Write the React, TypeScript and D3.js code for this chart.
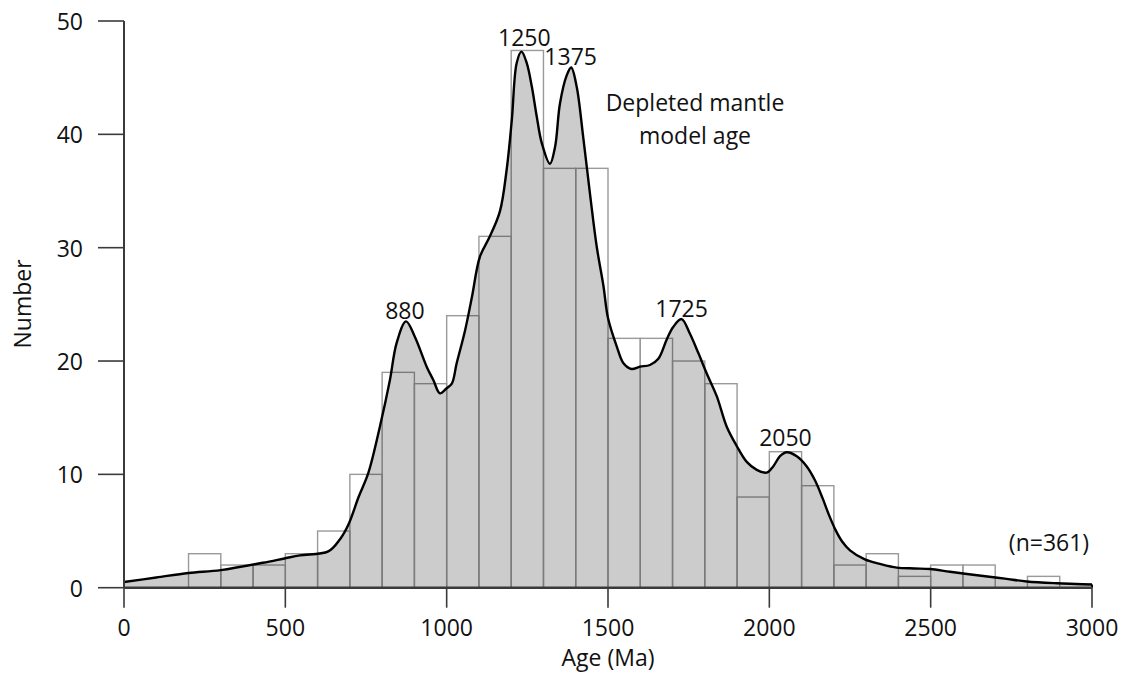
import React from "react";
import * as d3 from "d3";

// Histogram bins (100 Ma wide) and counts
const binStarts = [200, 300, 400, 500, 600, 700, 800, 900, 1000, 1100, 1200, 1300, 1400, 1500, 1600, 1700, 1800, 1900, 2000, 2100, 2200, 2300, 2400, 2500, 2600, 2800];
const binCounts = [3, 2, 2, 3, 5, 10, 19, 18, 24, 31, 47.4, 37, 37, 22, 22, 20, 18, 8, 12, 9, 2, 3, 1, 2, 2, 1];
const binWidth = 100;

// Probability density curve (scaled to counts)
const curveAge = [0, 100, 200, 300, 430, 500, 545, 633, 670, 696, 727, 757, 793, 824, 845, 874, 902, 938, 959, 979, 1000, 1016, 1031, 1057, 1078, 1103, 1134, 1165, 1186, 1202, 1217, 1232, 1248, 1264, 1279, 1295, 1320, 1336, 1351, 1372, 1386, 1403, 1423, 1444, 1465, 1486, 1500, 1527, 1548, 1573, 1599, 1630, 1656, 1682, 1702, 1728, 1754, 1780, 1806, 1837, 1868, 1899, 1930, 1961, 1992, 2012, 2033, 2054, 2085, 2116, 2141, 2165, 2185, 2205, 2225, 2250, 2296, 2343, 2395, 2450, 2498, 2560, 2663, 2730, 2798, 2891, 2950, 3000];
const curveVal = [0.5, 0.9, 1.3, 1.55, 2.2, 2.6, 2.85, 3.2, 4.3, 5.6, 8.0, 10.1, 14.2, 18.3, 21.6, 23.5, 22.1, 19.5, 18.3, 17.15, 17.6, 18.0, 19.8, 22.7, 25.6, 29.2, 31.0, 33.2, 36.9, 41.3, 46.3, 47.3, 46.3, 44.2, 41.6, 39.2, 37.4, 38.9, 42.7, 45.2, 45.9, 44.2, 39.8, 34.8, 30.1, 26.6, 23.8, 21.3, 19.8, 19.3, 19.5, 19.65, 20.2, 21.9, 23.0, 23.7, 22.4, 20.7, 18.9, 16.9, 14.2, 12.5, 11.1, 10.4, 10.15, 10.7, 11.6, 11.95, 11.6, 10.7, 9.5, 7.9, 6.4, 5.1, 4.1, 3.3, 2.5, 2.1, 1.77, 1.7, 1.65, 1.41, 1.03, 0.8, 0.55, 0.39, 0.33, 0.28];

const xTicks = [0, 500, 1000, 1500, 2000, 2500, 3000];
const yTicks = [0, 10, 20, 30, 40, 50];

// Peak annotations
const peakLabels = ["880", "1250", "1375", "1725", "2050"];
const peakAge = [880, 1250, 1375, 1725, 2050];
const peakLabelY = [24.5, 48.6, 46.9, 24.7, 13.3];
const peakLabelDx = [-3, -3, 3, 1, 0];

const W = 1128;
const H = 685;
const FONT = "'Open Sans', 'Noto Sans', sans-serif";

export default function App() {
  const x = d3.scaleLinear().domain([0, 3000]).range([124, 1092]);
  const y = d3.scaleLinear().domain([0, 50]).range([587.7, 21]);

  const pts: [number, number][] = curveAge.map((a, i) => [a, curveVal[i]]);
  const area = d3
    .area<[number, number]>()
    .x((d) => x(d[0]))
    .y0(y(0))
    .y1((d) => y(d[1]))
    .curve(d3.curveCatmullRom.alpha(0.5));
  const line = d3
    .line<[number, number]>()
    .x((d) => x(d[0]))
    .y((d) => y(d[1]))
    .curve(d3.curveCatmullRom.alpha(0.5));

  const axisColor = "#3a3a3a";
  const fs = 23;

  return (
    <svg
      width={W}
      height={H}
      style={{ position: "absolute", left: 0, top: 0, background: "#fff" }}
      fontFamily={FONT}
    >
      {/* histogram outlines */}
      {binStarts.map((b, i) => (
        <rect
          key={b}
          x={x(b)}
          y={y(binCounts[i])}
          width={x(b + binWidth) - x(b)}
          height={y(0) - y(binCounts[i])}
          fill="none"
          stroke="#9a9a9a"
          strokeWidth={1.4}
        />
      ))}

      {/* density area over the bars */}
      <path d={area(pts) || ""} fill="rgba(0,0,0,0.2)" stroke="none" />
      <path d={line(pts) || ""} fill="none" stroke="#000" strokeWidth={2.4} strokeLinejoin="round" />
      <line x1={x(3000)} x2={x(3000)} y1={y(curveVal[curveVal.length - 1])} y2={y(0)} stroke="#000" strokeWidth={2} />

      {/* axes */}
      <line x1={124} x2={124} y1={y(50)} y2={y(0)} stroke={axisColor} strokeWidth={2} />
      <line x1={124} x2={x(3000)} y1={y(0)} y2={y(0)} stroke={axisColor} strokeWidth={2.5} />
      {yTicks.map((t) => (
        <g key={t}>
          <line x1={98} x2={124} y1={y(t)} y2={y(t)} stroke={axisColor} strokeWidth={1.6} />
          <text x={83} y={y(t)} textAnchor="end" dominantBaseline="central" fontSize={fs} fill="#111">
            {t}
          </text>
        </g>
      ))}
      {xTicks.map((t) => (
        <g key={t}>
          <line x1={x(t)} x2={x(t)} y1={y(0)} y2={y(0) + 20} stroke={axisColor} strokeWidth={1.6} />
          <text x={x(t)} y={627} textAnchor="middle" dominantBaseline="central" fontSize={fs} fill="#111">
            {t}
          </text>
        </g>
      ))}

      <text x={608} y={657} textAnchor="middle" dominantBaseline="central" fontSize={fs} fill="#111">
        Age (Ma)
      </text>
      <text
        transform={`translate(22,304) rotate(-90)`}
        textAnchor="middle"
        dominantBaseline="central"
        fontSize={fs}
        fill="#111"
      >
        Number
      </text>

      {/* peak labels */}
      {peakLabels.map((l, i) => (
        <text
          key={l}
          x={x(peakAge[i]) + peakLabelDx[i]}
          y={y(peakLabelY[i])}
          textAnchor="middle"
          dominantBaseline="central"
          fontSize={fs}
          fill="#111"
        >
          {l}
        </text>
      ))}

      <text x={695} y={102} textAnchor="middle" dominantBaseline="central" fontSize={fs} fill="#111">
        Depleted mantle
      </text>
      <text x={695} y={135} textAnchor="middle" dominantBaseline="central" fontSize={fs} fill="#111">
        model age
      </text>
      <text x={1049} y={542} textAnchor="middle" dominantBaseline="central" fontSize={fs} fill="#111">
        (n=361)
      </text>
    </svg>
  );
}
